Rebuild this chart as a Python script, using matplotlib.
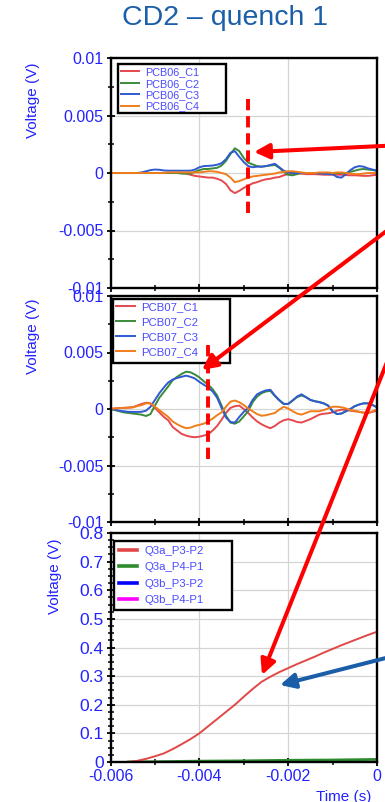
import numpy as np
import matplotlib
matplotlib.use('Agg')
import matplotlib.pyplot as plt
from matplotlib.patches import FancyArrowPatch, Rectangle
from matplotlib.ticker import MultipleLocator, FixedLocator, FixedFormatter

plt.rcParams['font.family'] = ['Liberation Sans', 'DejaVu Sans']
plt.rcParams['axes.unicode_minus'] = False

# ---------------- data ----------------
title = 'CD2 – quench 1'
ylabel = 'Voltage (V)'
xlabel = 'Time (s)'

# sample times of the PCB traces (s), 0.1 ms apart from -6 ms to 0
t_pcb = np.linspace(-0.006, 0.0, 61)

pcb06_names = ['PCB06_C1', 'PCB06_C2', 'PCB06_C3', 'PCB06_C4']
pcb06_c1_mV = [0, 0, 0, 0, 0, 0, 0, 0, 0, 0, 0, 0, 0, 0, 0, 0, 0, -0.05, -0.15, -0.25,
               -0.3, -0.35, -0.4, -0.4, -0.5, -0.65, -0.95, -1.5, -1.75, -1.55,
               -1.3, -1.1, -0.9, -0.8, -0.65, -0.55, -0.5, -0.4, -0.35, -0.2,
               -0.1, -0.05, 0, -0.05, -0.1, -0.1, -0.1, -0.12, -0.15, -0.15,
               -0.15, -0.15, -0.15, -0.18, -0.2, -0.2, -0.22, -0.25, -0.25, -0.2, -0.15]
pcb06_c2_mV = [0, 0, 0, 0, 0, 0, 0, 0, 0, 0, 0, 0, 0, 0, 0, 0, -0.05, -0.05, -0.05, 0.1,
               0.25, 0.35, 0.35, 0.4, 0.45, 0.65, 1.05, 1.65, 2.15, 1.9,
               1.3, 0.9, 0.75, 0.6, 0.55, 0.6, 0.65, 0.7, 0.45, 0.1,
               -0.15, -0.2, -0.1, 0, 0, 0, 0, 0, 0, -0.05,
               -0.05, 0, 0, 0, 0.1, 0.2, 0.3, 0.35, 0.3, 0.25, 0.2]
pcb06_c3_mV = [0, 0, 0, 0, 0, 0, 0, 0.05, 0.15, 0.25, 0.3, 0.28, 0.22, 0.2, 0.2, 0.2, 0.2, 0.2, 0.2, 0.3,
               0.5, 0.6, 0.62, 0.65, 0.72, 0.85, 1.2, 1.75, 1.9, 1.4,
               0.95, 0.6, 0.5, 0.55, 0.55, 0.6, 0.7, 0.8, 0.5, 0.2,
               0.05, 0, 0, 0, 0, 0, 0, -0.05, -0.05, -0.1,
               -0.1, -0.35, -0.4, -0.1, 0.25, 0.5, 0.6, 0.55, 0.4, 0.3, 0.2]
pcb06_c4_mV = [0, 0, 0, 0, 0, 0, 0, 0, 0, 0, 0, 0, 0, 0.05, 0.05, 0.05, 0.05, 0.05, 0.05, 0.05,
               0.05, 0.1, 0.15, 0.15, 0.1, 0, -0.1, -0.4, -0.8, -0.7,
               -0.55, -0.4, -0.3, -0.25, -0.2, -0.15, -0.1, -0.05, 0.05, 0.1,
               0.15, 0.15, 0.1, 0.05, 0, 0, 0, 0.05, 0.05, 0.05,
               0, 0.05, 0.05, 0, -0.05, -0.1, -0.1, -0.05, 0, 0, 0]

pcb07_names = ['PCB07_C1', 'PCB07_C2', 'PCB07_C3', 'PCB07_C4']
pcb07_c1_mV = [0, 0.05, 0.08, 0.1, 0.12, 0.15, 0.3, 0.45, 0.55, 0.5,
               0.1, -0.3, -0.7, -1.0, -1.6, -1.9, -2.2, -2.35, -2.45, -2.5,
               -2.45, -2.35, -2.25, -1.9, -1.5, -0.95, -0.35, 0.1, 0.25, 0.3,
               0.0, -0.35, -0.75, -1.1, -1.35, -1.55, -1.7, -1.5, -1.2, -1.0,
               -0.9, -1.0, -1.15, -1.2, -1.05, -0.9, -0.7, -0.5, -0.42, -0.38,
               -0.3, -0.15, -0.06, -0.08, -0.15, -0.2, -0.25, -0.33, -0.35, -0.25, -0.15]
pcb07_c2_mV = [0, -0.1, -0.2, -0.3, -0.35, -0.4, -0.45, -0.5, -0.62, -0.45,
               0.3, 1.0, 1.5, 2.0, 2.55, 2.85, 3.1, 3.3, 3.25, 3.05,
               2.8, 2.45, 2.15, 1.75, 1.2, 0.3, -0.6, -1.2, -1.3, -1.1,
               -0.65, -0.2, 0.6, 1.1, 1.4, 1.55, 1.6, 1.15, 0.75, 0.45,
               0.45, 0.75, 1.05, 1.2, 1.05, 0.8, 0.7, 0.62, 0.5, 0.3,
               -0.2, -0.45, -0.4, -0.2, 0.0, 0.25, 0.4, 0.5, 0.5, 0.35, 0.15]
pcb07_c3_mV = [0, -0.05, -0.15, -0.2, -0.25, -0.26, -0.26, -0.25, -0.15, 0.2,
               0.8, 1.4, 1.9, 2.35, 2.6, 2.75, 2.85, 2.95, 2.85, 2.7,
               2.4, 2.15, 1.9, 1.55, 1.0, 0.1, -0.75, -1.15, -1.2, -0.7,
               -0.25, 0.1, 0.8, 1.3, 1.5, 1.65, 1.7, 1.2, 0.8, 0.45,
               0.45, 0.75, 1.1, 1.3, 1.05, 0.8, 0.68, 0.6, 0.5, 0.3,
               -0.2, -0.45, -0.4, -0.2, 0.0, 0.25, 0.4, 0.5, 0.5, 0.35, 0.15]
pcb07_c4_mV = [0, 0.05, 0.08, 0.1, 0.12, 0.15, 0.25, 0.35, 0.5, 0.5,
               0.2, -0.1, -0.4, -0.7, -1.1, -1.35, -1.55, -1.7, -1.65, -1.5,
               -1.4, -1.3, -1.1, -0.85, -0.55, -0.3, 0.2, 0.65, 0.75, 0.6,
               0.35, 0.05, -0.2, -0.45, -0.6, -0.55, -0.45, -0.35, -0.05, 0.2,
               0.05, -0.2, -0.4, -0.5, -0.35, -0.2, -0.2, -0.2, -0.1, 0.05,
               0.2, 0.2, 0.15, 0.05, -0.1, -0.15, -0.25, -0.33, -0.35, -0.2, -0.05]

# quench-antenna / pickup voltages (bottom panel)
q3_names = ['Q3a_P3-P2', 'Q3a_P4-P1', 'Q3b_P3-P2', 'Q3b_P4-P1']
t_q3a_p3p2 = [-0.0056, -0.0054, -0.0052, -0.0050, -0.0048, -0.0046, -0.0044, -0.0042, -0.0040,
              -0.0038, -0.0036, -0.0034, -0.0032, -0.0030, -0.0028, -0.0026, -0.0024, -0.0022,
              -0.0020, -0.0018, -0.0016, -0.0014, -0.0012, -0.0010, -0.0008, -0.0006, -0.0004,
              -0.0002, 0.0]
v_q3a_p3p2 = [0.0, 0.004, 0.011, 0.02, 0.03, 0.045, 0.062, 0.08, 0.10,
              0.125, 0.15, 0.175, 0.20, 0.228, 0.255, 0.28, 0.298, 0.314,
              0.328, 0.342, 0.355, 0.368, 0.382, 0.395, 0.408, 0.42, 0.432,
              0.444, 0.455]
t_q3_small = [-0.0056, -0.0050, -0.0040, -0.0030, -0.0020, -0.0010, 0.0]
v_q3a_p4p1 = [0.0, 0.001, 0.003, 0.004, 0.006, 0.007, 0.009]
v_q3b_p3p2 = [0.0, 0.0, 0.0, 0.0, 0.0, 0.0, 0.0]
v_q3b_p4p1 = [0.0, 0.0, 0.0, 0.0, 0.0, 0.0, 0.0]

# ticks
x_ticks = [-0.006, -0.004, -0.002, 0.0]
x_ticklabels = ['-0.006', '-0.004', '-0.002', '0']
y_ticks_pcb = [-0.01, -0.005, 0.0, 0.005, 0.01]
y_ticklabels_pcb = ['-0.01', '-0.005', '0', '0.005', '0.01']
y_ticks_q3 = [0.0, 0.1, 0.2, 0.3, 0.4, 0.5, 0.6, 0.7, 0.8]
y_ticklabels_q3 = ['0', '0.1', '0.2', '0.3', '0.4', '0.5', '0.6', '0.7', '0.8']

# annotation marks: dashed markers (time, y from, y to in V) and arrows (figure px)
dash_pcb06 = (-0.0029, 0.0064, -0.0039)
dash_pcb07 = (-0.0038, 0.0057, -0.0048)
arrows_px = [  # (tail x, tail y, tip x, tip y, colour)
    (425, 144, 254, 152, '#ff0000'),
    (425, 202, 202, 370, '#ff0000'),
    (425, 267, 262, 675, '#ff0000'),
    (425, 648, 280, 685, '#1a5ea8'),
]

# ---------------- style ----------------
W, H = 385, 802
TICK_BLUE = '#2222ff'
LEG_BLUE = '#4a4aff'
TITLE_BLUE = '#1c5ea8'
pcb_colors = ['#e5484d', '#3a8a3a', '#2f5ad0', '#f07d1a']
q3_colors = ['#e04848', '#2e8b2e', '#0000ff', '#ff00ff']

fig = plt.figure(figsize=(W / 100, H / 100), dpi=100)
fig.patch.set_facecolor('white')

AX_L, AX_R = 110.5, 377
boxes = {1: (58, 288), 2: (296, 522), 3: (533, 762)}


def frac_box(left, top, right, bottom):
    return [left / W, 1 - bottom / H, (right - left) / W, (bottom - top) / H]


def style_axes(ax, ysize):
    for s in ax.spines.values():
        s.set_linewidth(1.7)
        s.set_color('black')
    ax.tick_params(axis='both', which='major', direction='inout', length=6, width=1.3,
                   color='black', labelcolor=TICK_BLUE, labelsize=ysize, pad=2)
    ax.tick_params(axis='both', which='minor', direction='inout', length=4, width=1.1,
                   color='black')
    ax.grid(True, which='major', color='#d4d4d4', linewidth=0.9)
    ax.set_axisbelow(True)


def legend_box(ax, panel, left, top, right, bottom, handles, names, spacing, fsize,
               pad, hlw=None):
    ptop, pbot = boxes[panel]
    x0 = (left - AX_L) / (AX_R - AX_L)
    x1 = (right - AX_L) / (AX_R - AX_L)
    y0 = (pbot - bottom) / (pbot - ptop)
    y1 = (pbot - top) / (pbot - ptop)
    ax.add_patch(Rectangle((x0, y0), x1 - x0, y1 - y0, transform=ax.transAxes,
                           facecolor='white', edgecolor='black', lw=1.7, zorder=4,
                           clip_on=False))
    leg = ax.legend(handles, names, loc='upper left', bbox_to_anchor=(x0, y1),
                    fontsize=fsize, frameon=False, borderpad=pad,
                    labelspacing=spacing, handlelength=1.6, handletextpad=0.6,
                    borderaxespad=0)
    leg.set_zorder(6)
    for tx in leg.get_texts():
        tx.set_color(LEG_BLUE)
    if hlw:
        for h in leg.legend_handles:
            h.set_linewidth(hlw)
    return leg


# ----- panel 1 -----
ax1 = fig.add_axes(frac_box(AX_L, *boxes[1][:1], AX_R, boxes[1][1]))
l1 = []
for vals, c in zip([pcb06_c1_mV, pcb06_c2_mV, pcb06_c3_mV, pcb06_c4_mV], pcb_colors):
    l1 += ax1.plot(t_pcb, np.array(vals) * 1e-3, color=c, lw=1.4)
ax1.set_xlim(-0.006, 0.0)
ax1.set_ylim(-0.01, 0.01)
ax1.yaxis.set_major_locator(FixedLocator(y_ticks_pcb))
ax1.yaxis.set_major_formatter(FixedFormatter(y_ticklabels_pcb))
ax1.yaxis.set_minor_locator(MultipleLocator(0.0025))
ax1.xaxis.set_major_locator(FixedLocator(x_ticks))
ax1.xaxis.set_minor_locator(MultipleLocator(0.001))
ax1.set_xticklabels([])
style_axes(ax1, 11.5)
legend_box(ax1, 1, 118, 64, 226, 113, l1, pcb06_names, 0.13, 7.8, 0.3)
ax1.plot([dash_pcb06[0]] * 2, dash_pcb06[1:], color='#ff0000', lw=2.8,
         dashes=(2.9, 1.5), zorder=5)

# ----- panel 2 -----
ax2 = fig.add_axes(frac_box(AX_L, boxes[2][0], AX_R, boxes[2][1]))
l2 = []
for vals, c in zip([pcb07_c1_mV, pcb07_c2_mV, pcb07_c3_mV, pcb07_c4_mV], pcb_colors):
    l2 += ax2.plot(t_pcb, np.array(vals) * 1e-3, color=c, lw=1.4)
ax2.set_xlim(-0.006, 0.0)
ax2.set_ylim(-0.01, 0.01)
ax2.yaxis.set_major_locator(FixedLocator(y_ticks_pcb))
ax2.yaxis.set_major_formatter(FixedFormatter(y_ticklabels_pcb))
ax2.yaxis.set_minor_locator(MultipleLocator(0.0025))
ax2.xaxis.set_major_locator(FixedLocator(x_ticks))
ax2.xaxis.set_minor_locator(MultipleLocator(0.001))
ax2.set_xticklabels([])
style_axes(ax2, 11.5)
legend_box(ax2, 2, 113, 299, 230, 363, l2, pcb07_names, 0.42, 8.2, 0.3)
ax2.plot([dash_pcb07[0]] * 2, dash_pcb07[1:], color='#ff0000', lw=2.8,
         dashes=(2.9, 1.5), zorder=5)

# ----- panel 3 -----
ax3 = fig.add_axes(frac_box(AX_L, boxes[3][0], AX_R, boxes[3][1]))
h_b4 = ax3.plot(t_q3_small, v_q3b_p4p1, color=q3_colors[3], lw=1.4)[0]
h_b3 = ax3.plot(t_q3_small, v_q3b_p3p2, color=q3_colors[2], lw=1.4)[0]
h_a4 = ax3.plot(t_q3_small, v_q3a_p4p1, color=q3_colors[1], lw=2.0)[0]
h_a3 = ax3.plot(t_q3a_p3p2, v_q3a_p3p2, color=q3_colors[0], lw=1.4)[0]
ax3.set_xlim(-0.006, 0.0)
ax3.set_ylim(0.0, 0.8)
ax3.yaxis.set_major_locator(FixedLocator(y_ticks_q3))
ax3.yaxis.set_major_formatter(FixedFormatter(y_ticklabels_q3))
ax3.yaxis.set_minor_locator(MultipleLocator(0.025))
ax3.xaxis.set_major_locator(FixedLocator(x_ticks))
ax3.xaxis.set_major_formatter(FixedFormatter(x_ticklabels))
ax3.xaxis.set_minor_locator(MultipleLocator(0.001))
style_axes(ax3, 12.5)
ax3.tick_params(axis='x', labelsize=11.5)
legend_box(ax3, 3, 114, 541, 232, 610, [h_a3, h_a4, h_b3, h_b4], q3_names, 0.55,
           8.2, 0.45, hlw=2.6)

# ----- texts -----
fig.text(225 / W, 1 - 18 / H, title, ha='center', va='center', fontsize=20.5,
         color=TITLE_BLUE)
for xc, yc in [(33.5, 100), (33.5, 336), (55, 576)]:
    fig.text(xc / W, 1 - yc / H, ylabel, rotation=90, ha='center', va='center',
             fontsize=11, color=TICK_BLUE)
fig.text(344 / W, 1 - 797 / H, xlabel, ha='center', va='center', fontsize=11,
         color=TICK_BLUE)

# ----- arrows (figure pixel positions) -----
for x0, y0, x1, y1, col in arrows_px:
    arr = FancyArrowPatch((x0 / W, 1 - y0 / H), (x1 / W, 1 - y1 / H),
                          transform=fig.transFigure,
                          arrowstyle='-|>,head_length=9,head_width=4.5',
                          mutation_scale=1, lw=2.9, color=col,
                          shrinkA=0, shrinkB=0, zorder=10)
    fig.add_artist(arr)

fig.savefig('out.png', dpi=100)
